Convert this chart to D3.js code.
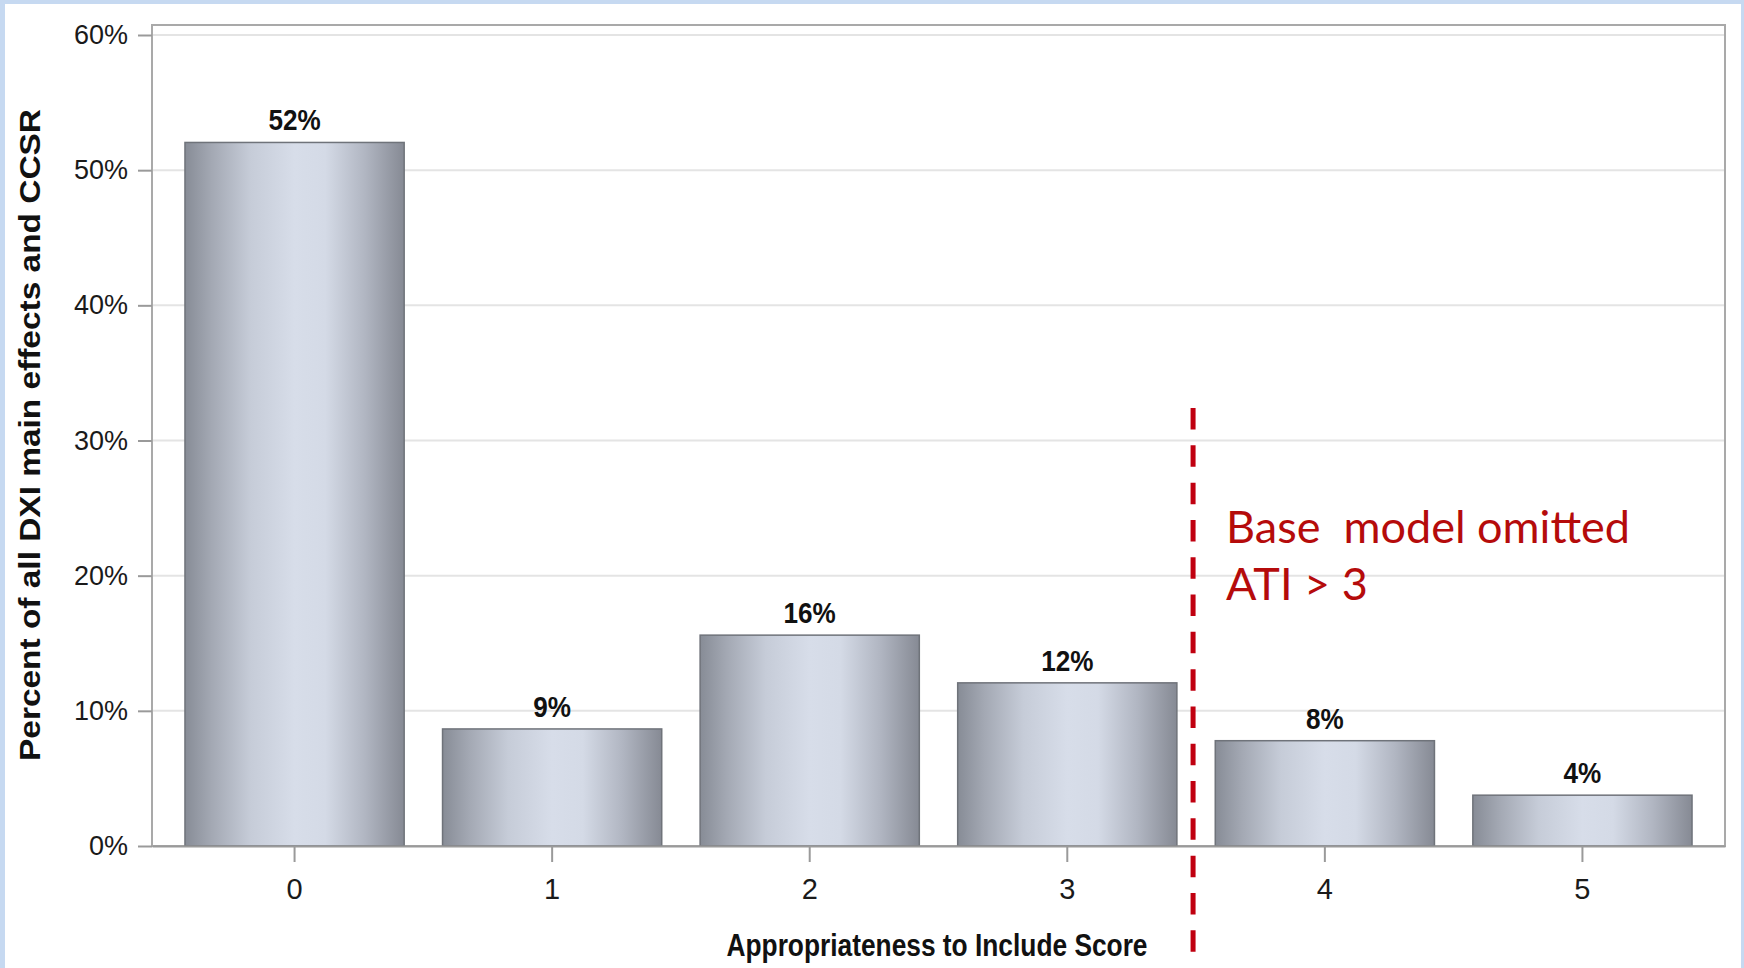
<!DOCTYPE html>
<html>
<head>
<meta charset="utf-8">
<script src="https://cdn.jsdelivr.net/npm/d3@7/dist/d3.min.js"></script>
<style>
  html, body { margin: 0; padding: 0; background: #c6d9f1; }
  svg { display: block; }
</style>
</head>
<body>
<svg id="chart" width="1744" height="968"></svg>
<script>
// Appropriateness to Include (ATI) score distribution
const categories = ["0", "1", "2", "3", "4", "5"];
const percents = [52.05, 8.66, 15.6, 12.07, 7.79, 3.76];
const yTicks = [0, 10, 20, 30, 40, 50, 60];
const yTitle = "Percent of all DXI main effects and CCSR";
const xTitle = "Appropriateness to Include Score";
const noteLines = ["Base  model omitted", "ATI > 3"];
const cutoffAfter = "3";   // divider drawn between score 3 and score 4
const cutoffTop = 32.4;    // divider starts at this percent level

const W = 1744, H = 968;
const plot = { left: 152, right: 1725, top: 25, bottom: 846 };
const sans = "'Liberation Sans', Arial, sans-serif";

const svg = d3.select("#chart");

// white page inside the light-blue frame
svg.append("rect")
  .attr("x", 5).attr("y", 4)
  .attr("width", 1736).attr("height", H - 4)
  .attr("fill", "#ffffff");

const x = d3.scaleBand()
  .domain(categories)
  .range([plot.left, plot.right])
  .paddingInner(0.149)
  .paddingOuter(0.128);

const y = d3.scaleLinear()
  .domain([0, 60])
  .range([plot.bottom, plot.bottom - 811]);

// slightly condensed text: keep the natural width scaled by k
function condense(sel, k) {
  sel.each(function () {
    const len = this.getComputedTextLength();
    d3.select(this).attr("textLength", len * k).attr("lengthAdjust", "spacingAndGlyphs");
  });
}

// bar shading: dark edges, light centre
const defs = svg.append("defs");
const grad = defs.append("linearGradient")
  .attr("id", "barShade")
  .attr("x1", "0%").attr("x2", "100%").attr("y1", "0%").attr("y2", "0%");
[
  [0, "#878c96"], [0.12, "#a3a8b3"], [0.3, "#c6ccd8"], [0.5, "#d7dde9"],
  [0.64, "#d4dae6"], [0.82, "#b1b6c2"], [1, "#868a94"]
].forEach(([o, c]) => grad.append("stop").attr("offset", o).attr("stop-color", c));

// gridlines
svg.append("g")
  .selectAll("line")
  .data(yTicks.filter(d => d > 0))
  .join("line")
  .attr("x1", plot.left).attr("x2", plot.right)
  .attr("y1", d => y(d)).attr("y2", d => y(d))
  .attr("stroke", "#e4e4e4")
  .attr("stroke-width", 2);

// plot frame
svg.append("rect")
  .attr("x", plot.left).attr("y", plot.top)
  .attr("width", plot.right - plot.left)
  .attr("height", plot.bottom - plot.top)
  .attr("fill", "none")
  .attr("stroke", "#a9a9a9")
  .attr("stroke-width", 2);

// bars
svg.append("g")
  .selectAll("rect")
  .data(categories)
  .join("rect")
  .attr("x", d => x(d))
  .attr("y", (d, i) => y(percents[i]))
  .attr("width", x.bandwidth())
  .attr("height", (d, i) => y(0) - y(percents[i]))
  .attr("fill", "url(#barShade)")
  .attr("stroke", "#6f737a")
  .attr("stroke-width", 1.5);

// value labels
svg.append("g")
  .selectAll("text")
  .data(categories)
  .join("text")
  .attr("x", d => x(d) + x.bandwidth() / 2)
  .attr("y", (d, i) => y(percents[i]) - 12)
  .attr("text-anchor", "middle")
  .attr("font-family", sans)
  .attr("font-weight", "bold")
  .attr("font-size", 29)
  .attr("fill", "#111")
  .text((d, i) => d3.format(".0f")(percents[i]) + "%")
  .call(condense, 0.9);

// y axis
const yAxis = svg.append("g")
  .attr("transform", `translate(${plot.left},0)`)
  .call(d3.axisLeft(y).tickValues(yTicks).tickFormat(d => d + "%").tickSize(14).tickSizeOuter(0).tickPadding(10));
yAxis.select(".domain").remove();
yAxis.selectAll(".tick line").attr("stroke", "#9a9a9a").attr("stroke-width", 2);
yAxis.selectAll(".tick text")
  .attr("font-family", sans)
  .attr("font-size", 27)
  .attr("fill", "#1a1a1a");

// x axis
const xAxis = svg.append("g")
  .attr("transform", `translate(0,${plot.bottom})`)
  .call(d3.axisBottom(x).tickSize(16).tickSizeOuter(0).tickPadding(16));
xAxis.select(".domain")
  .attr("stroke", "#9a9a9a").attr("stroke-width", 2);
xAxis.selectAll(".tick line").attr("stroke", "#9a9a9a").attr("stroke-width", 2);
xAxis.selectAll(".tick text")
  .attr("font-family", sans)
  .attr("font-size", 29)
  .attr("fill", "#1a1a1a");

// axis titles
svg.append("text")
  .attr("transform", `translate(40,435) rotate(-90)`)
  .attr("text-anchor", "middle")
  .attr("font-family", sans)
  .attr("font-weight", "bold")
  .attr("font-size", 30)
  .attr("textLength", 652)
  .attr("lengthAdjust", "spacingAndGlyphs")
  .attr("fill", "#111")
  .text(yTitle);

svg.append("text")
  .attr("x", 937)
  .attr("y", 956)
  .attr("text-anchor", "middle")
  .attr("font-family", sans)
  .attr("font-weight", "bold")
  .attr("font-size", 32)
  .attr("textLength", 421)
  .attr("lengthAdjust", "spacingAndGlyphs")
  .attr("fill", "#111")
  .text(xTitle);

// cutoff divider between scores 3 and 4
const idx = categories.indexOf(cutoffAfter);
const divX = (x(categories[idx]) + x(categories[idx + 1])) / 2 + x.bandwidth() / 2 - 3;
svg.append("line")
  .attr("x1", divX).attr("x2", divX)
  .attr("y1", y(cutoffTop))
  .attr("y2", H - 4)
  .attr("stroke", "#c00010")
  .attr("stroke-width", 5)
  .attr("stroke-dasharray", "21.5,15.8");

const note = svg.append("text")
  .attr("font-family", "Lato, 'Open Sans', sans-serif")
  .attr("font-size", 45)
  .attr("fill", "#b50b0b")
  .style("white-space", "pre");
noteLines.forEach((t, i) => {
  note.append("tspan")
    .attr("x", divX + 33)
    .attr("y", 543 + i * 57)
    .text(t);
});
</script>
</body>
</html>
